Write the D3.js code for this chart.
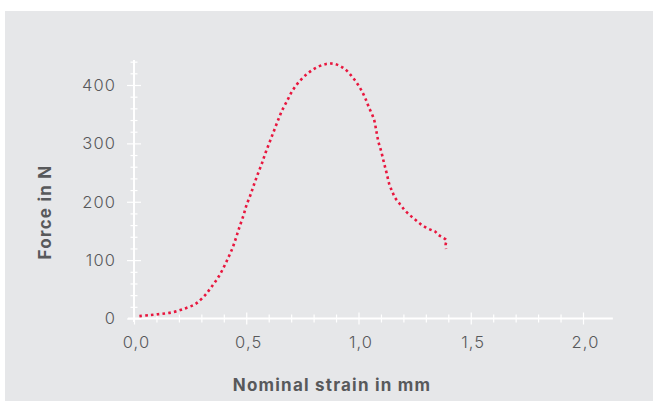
<!DOCTYPE html>
<html>
<head>
<meta charset="utf-8">
<script src="https://cdn.jsdelivr.net/npm/d3@7"></script>
<style>
  html, body { margin: 0; padding: 0; background: #ffffff; }
  svg { display: block; }
</style>
</head>
<body>
<svg id="chart" width="653" height="401"></svg>
<script>
// ---- data ----
const strain = [0.024, 0.072, 0.124, 0.176, 0.225, 0.265, 0.285, 0.319, 0.349, 0.376,
  0.400, 0.421, 0.440, 0.456, 0.471, 0.488, 0.501, 0.519, 0.535, 0.552,
  0.570, 0.586, 0.604, 0.622, 0.640, 0.659, 0.681, 0.704, 0.732, 0.768,
  0.808, 0.856, 0.895, 0.937, 0.972, 1.002, 1.026, 1.045, 1.069, 1.079,
  1.088, 1.102, 1.114, 1.126, 1.138, 1.152, 1.161, 1.176, 1.191, 1.207,
  1.226, 1.244, 1.263, 1.283, 1.305, 1.328, 1.341, 1.357, 1.374, 1.391,
  1.388, 1.390];
const force = [4, 6, 8, 11, 17, 23, 28, 41, 56, 71,
  88, 105, 122, 140, 158, 177, 194, 212, 230, 248,
  266, 284, 302, 320, 338, 356, 372, 389, 404, 418,
  429, 436, 436, 428, 414, 398, 381, 363, 341, 322,
  304, 285, 266, 248, 229, 216, 208, 200, 193, 185,
  178, 172, 166, 160, 155, 151, 149, 143, 139, 134,
  126, 119];
const xMajorTicks = [0, 0.5, 1.0, 1.5, 2.0];
const xMinorTicks = [0.1, 0.2, 0.3, 0.4, 0.6, 0.7, 0.8, 0.9, 1.1, 1.2, 1.3, 1.4, 1.6, 1.7, 1.8, 1.9];
const yMajorTicks = [0, 100, 200, 300, 400];
const yMinorTicks = [20, 40, 60, 80, 120, 140, 160, 180, 220, 240, 260, 280, 320, 340, 360, 380, 420, 440];
const xTitle = "Nominal strain in mm";
const yTitle = "Force in N";

// ---- setup ----
const svg = d3.select("#chart");
const W = 653, H = 401;
svg.append("rect").attr("x", 5).attr("y", 11).attr("width", W - 5).attr("height", H - 11).attr("fill", "#e6e7e9");

const x = d3.scaleLinear().domain([0, 2]).range([134, 583]);
const y = d3.scaleLinear().domain([0, 400]).range([318.5, 85]);

const loc = d3.formatLocale({decimal: ",", thousands: ".", grouping: [3], currency: ["", "€"]});
const fmtX = loc.format(".1f");

const labelFont = "Inter, 'DejaVu Sans', sans-serif";
const textColor = "#58595b";

// axis lines
svg.append("line").attr("x1", x(-0.027)).attr("x2", x(2.133)).attr("y1", y(0)).attr("y2", y(0))
  .attr("stroke", "#fff").attr("stroke-width", 2);
svg.append("line").attr("x1", x(0)).attr("x2", x(0)).attr("y1", y(-6)).attr("y2", y(443))
  .attr("stroke", "#fff").attr("stroke-width", 2);

// x axis (major)
const gxMaj = svg.append("g").attr("transform", `translate(0,${y(0)})`)
  .call(d3.axisBottom(x).tickValues(xMajorTicks).tickFormat(fmtX).tickSize(6).tickPadding(12));
gxMaj.select(".domain").remove();
gxMaj.selectAll(".tick line").attr("y1", -6).attr("y2", 6).attr("stroke", "#fff").attr("stroke-width", 1.2);
gxMaj.selectAll(".tick text").attr("fill", textColor).attr("font-family", labelFont)
  .attr("font-size", 16.5).attr("font-weight", 300).attr("letter-spacing", 1.1).attr("dx", 2);

const gxMin = svg.append("g").attr("transform", `translate(0,${y(0)})`)
  .call(d3.axisBottom(x).tickValues(xMinorTicks).tickFormat("").tickSize(4));
gxMin.select(".domain").remove();
gxMin.selectAll(".tick line").attr("y1", -4).attr("y2", 4).attr("stroke", "#fff").attr("stroke-width", 1.2);

// y axis (major)
const gyMaj = svg.append("g").attr("transform", `translate(${x(0)},0)`)
  .call(d3.axisLeft(y).tickValues(yMajorTicks).tickFormat(d3.format("d")).tickSize(7).tickPadding(11));
gyMaj.select(".domain").remove();
gyMaj.selectAll(".tick line").attr("x1", -7).attr("x2", 7).attr("stroke", "#fff").attr("stroke-width", 1.2);
gyMaj.selectAll(".tick text").attr("fill", textColor).attr("font-family", labelFont)
  .attr("font-size", 16.5).attr("font-weight", 300).attr("letter-spacing", 1.1);

const gyMin = svg.append("g").attr("transform", `translate(${x(0)},0)`)
  .call(d3.axisLeft(y).tickValues(yMinorTicks).tickFormat("").tickSize(4));
gyMin.select(".domain").remove();
gyMin.selectAll(".tick line").attr("x1", -3.5).attr("x2", 3.5).attr("stroke", "#fff").attr("stroke-width", 1.2);

// titles
svg.append("text").attr("x", 332).attr("y", 391).attr("text-anchor", "middle")
  .attr("font-family", labelFont).attr("font-weight", 700).attr("font-size", 17)
  .attr("letter-spacing", 1.2).attr("fill", textColor).text(xTitle);
svg.append("text").attr("transform", "translate(50.5,212) rotate(-90)").attr("text-anchor", "middle")
  .attr("font-family", labelFont).attr("font-weight", 700).attr("font-size", 17)
  .attr("letter-spacing", 1.2).attr("fill", textColor).text(yTitle);

// data line (dotted)
const pts = strain.map((s, i) => [s, force[i]]);
const line = d3.line().x(d => x(d[0])).y(d => y(d[1])).curve(d3.curveCatmullRom.alpha(0.5));
svg.append("path").datum(pts).attr("d", line).attr("fill", "none")
  .attr("stroke", "#e8173e").attr("stroke-width", 2.6).attr("stroke-dasharray", "2.6 3.2");
</script>
</body>
</html>
